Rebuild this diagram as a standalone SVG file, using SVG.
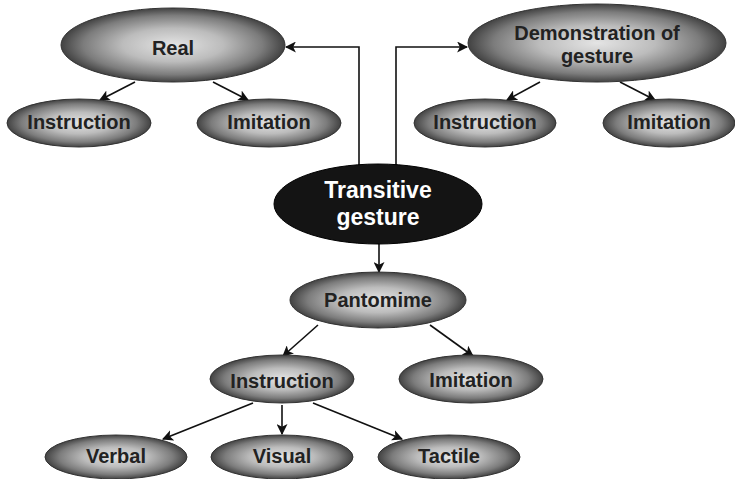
<svg xmlns="http://www.w3.org/2000/svg" width="735" height="479" viewBox="0 0 735 479">
<defs>
<radialGradient id="g" cx="50%" cy="50%" r="50%">
<stop offset="0" stop-color="#e4e4e4"/>
<stop offset="0.45" stop-color="#bcbcbc"/>
<stop offset="0.8" stop-color="#7c7c7c"/>
<stop offset="1" stop-color="#424242"/>
</radialGradient>
<marker id="ah" viewBox="0 0 10 10" refX="9" refY="5" markerWidth="11" markerHeight="11" markerUnits="userSpaceOnUse" orient="auto">
<path d="M0,0 L10,5 L0,10 L2.5,5 z" fill="#111"/>
</marker>
</defs>
<style>
.n{fill:url(#g);stroke:#333;stroke-width:1}
.t{font-family:"Liberation Sans",Arial,sans-serif;font-weight:bold;font-size:20px;fill:#222;text-anchor:middle}
.c{fill:none;stroke:#111;stroke-width:1.6;marker-end:url(#ah)}
</style>
<rect width="735" height="479" fill="#fff"/>
<g id="connectors">
<path class="c" d="M359,165 V47 H286"/>
<path class="c" d="M396,165 V47 H467"/>
<path class="c" d="M135,82 L100,100"/>
<path class="c" d="M213,82 L248,100"/>
<path class="c" d="M540,82 L507,100"/>
<path class="c" d="M620,82 L655,100"/>
<path class="c" d="M379,244 V272"/>
<path class="c" d="M318,325 L283,356"/>
<path class="c" d="M430,325 L473,356"/>
<path class="c" d="M253,403 L163,439"/>
<path class="c" d="M282,405 V434"/>
<path class="c" d="M313,403 L402,439"/>
</g>
<g id="real"><ellipse class="n" cx="173" cy="45" rx="112" ry="37"/><text class="t" x="173" y="55">Real</text></g>
<g id="instruction1"><ellipse class="n" cx="79" cy="123" rx="72" ry="24"/><text class="t" x="79" y="129">Instruction</text></g>
<g id="imitation1"><ellipse class="n" cx="269" cy="123" rx="72" ry="24"/><text class="t" x="269" y="129">Imitation</text></g>
<g id="demonstration"><ellipse class="n" cx="597" cy="43" rx="129" ry="39"/><text class="t" x="597" y="40">Demonstration of</text><text class="t" x="597" y="63">gesture</text></g>
<g id="instruction2"><ellipse class="n" cx="485" cy="123" rx="71" ry="24"/><text class="t" x="485" y="129">Instruction</text></g>
<g id="imitation2"><ellipse class="n" cx="669" cy="123" rx="66" ry="24"/><text class="t" x="669" y="129">Imitation</text></g>
<g id="transitive"><ellipse cx="378" cy="204" rx="104" ry="40" fill="#141414" stroke="#000"/><text class="t" x="378" y="198" style="fill:#fff;font-size:23px">Transitive</text><text class="t" x="378" y="225" style="fill:#fff;font-size:23px">gesture</text></g>
<g id="pantomime"><ellipse class="n" cx="378" cy="300" rx="88" ry="28"/><text class="t" x="378" y="307">Pantomime</text></g>
<g id="instruction3"><ellipse class="n" cx="282" cy="379" rx="72" ry="24"/><text class="t" x="282" y="388">Instruction</text></g>
<g id="imitation3"><ellipse class="n" cx="471" cy="379" rx="72" ry="24"/><text class="t" x="471" y="387">Imitation</text></g>
<g id="verbal"><ellipse class="n" cx="116" cy="457" rx="71" ry="22"/><text class="t" x="116" y="463">Verbal</text></g>
<g id="visual"><ellipse class="n" cx="282" cy="457" rx="71" ry="22"/><text class="t" x="282" y="463">Visual</text></g>
<g id="tactile"><ellipse class="n" cx="449" cy="457" rx="71" ry="22"/><text class="t" x="449" y="463">Tactile</text></g>
</svg>
